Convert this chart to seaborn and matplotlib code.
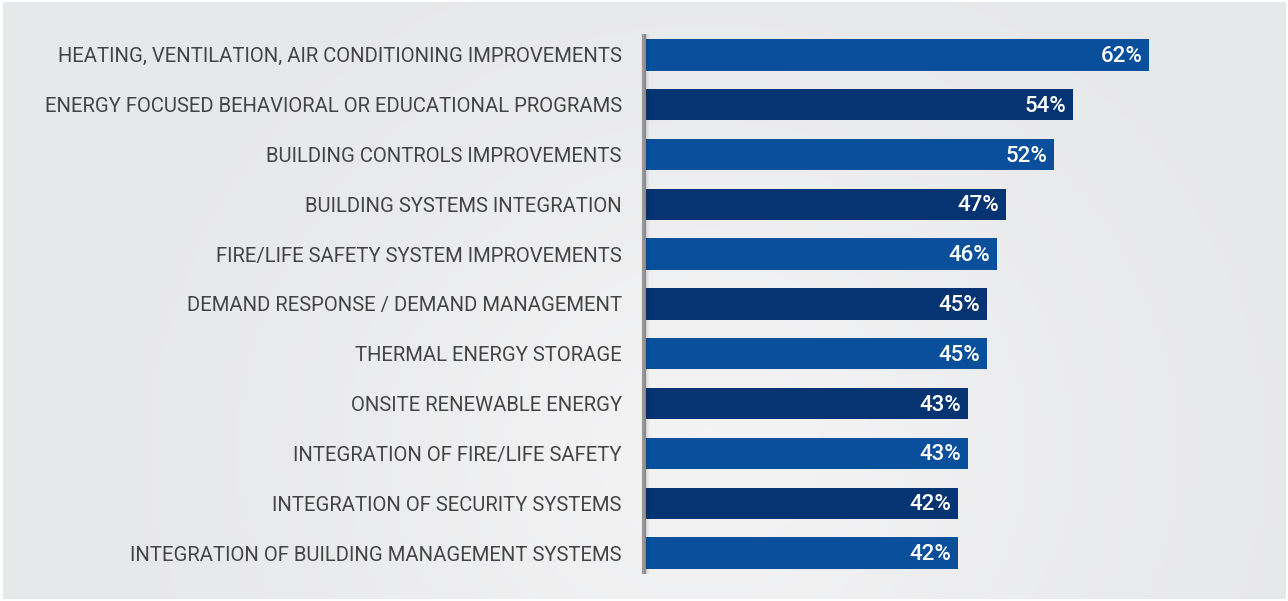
import numpy as np
import pandas as pd
import matplotlib.pyplot as plt
import seaborn as sns

categories = [
    "HEATING, VENTILATION, AIR CONDITIONING IMPROVEMENTS",
    "ENERGY FOCUSED BEHAVIORAL OR EDUCATIONAL PROGRAMS",
    "BUILDING CONTROLS IMPROVEMENTS",
    "BUILDING SYSTEMS INTEGRATION",
    "FIRE/LIFE SAFETY SYSTEM IMPROVEMENTS",
    "DEMAND RESPONSE / DEMAND MANAGEMENT",
    "THERMAL ENERGY STORAGE",
    "ONSITE RENEWABLE ENERGY",
    "INTEGRATION OF FIRE/LIFE SAFETY",
    "INTEGRATION OF SECURITY SYSTEMS",
    "INTEGRATION OF BUILDING MANAGEMENT SYSTEMS",
]
values = [62, 54, 52, 47, 46, 45, 45, 43, 43, 42, 42]

light_blue = "#0a4f9c"
dark_blue = "#063371"
df = pd.DataFrame({"category": categories, "value": values})
palette = [light_blue if i % 2 == 0 else dark_blue for i in range(len(categories))]

sns.set_style("white")
plt.rcParams["font.family"] = ["Roboto", "DejaVu Sans"]

fig = plt.figure(figsize=(12.88, 6.01), dpi=100, facecolor="white")

# soft light-grey background with a lighter area in the middle
bg = fig.add_axes([0.002, 0.004, 0.996, 0.992])
xx, yy = np.meshgrid(np.linspace(0, 1, 300), np.linspace(0, 1, 150))
glow = np.exp(-((xx - 0.55) ** 2) / 0.08 - ((yy - 0.75) ** 2) / 0.3)
bg.imshow(glow, cmap=sns.blend_palette(["#e7e8ea", "#f3f3f4"], as_cmap=True),
          aspect="auto", extent=[0, 1, 0, 1], vmin=0, vmax=1)
bg.set_axis_off()

ax = fig.add_axes([0.5, 0.0383, 0.5, 0.9118])
ax.set_facecolor("none")
sns.barplot(data=df, x="value", y="category", hue="category", palette=palette,
            legend=False, width=0.63, saturation=1, linewidth=0, ax=ax)

ax.set_xlim(9.1, 76.5)
ax.set_ylim(len(categories) - 0.5, -0.5)
for s in ax.spines.values():
    s.set_visible(False)
ax.set_xticks([])
ax.set_xlabel("")
ax.set_ylabel("")
ax.tick_params(axis="y", length=0, pad=16, labelsize=14.6, labelcolor="#444444")

for i, v in enumerate(values):
    ax.text(v - 0.7, i + 0.03, f"{v}%", color="white", fontsize=16, fontweight="medium",
            ha="right", va="center")

# grey divider with a faint shadow
ax.vlines(9.1, -0.42, len(categories) - 0.58, color="#9a9a9c", lw=3, clip_on=False, zorder=5)
for k in range(1, 6):
    ax.vlines(9.1 + 0.1 * k, -0.42, len(categories) - 0.58, color="#000000",
              lw=1.5, alpha=0.06 * (6 - k) / 5, clip_on=False, zorder=5)

fig.savefig("out.png", dpi=100, facecolor=fig.get_facecolor())
